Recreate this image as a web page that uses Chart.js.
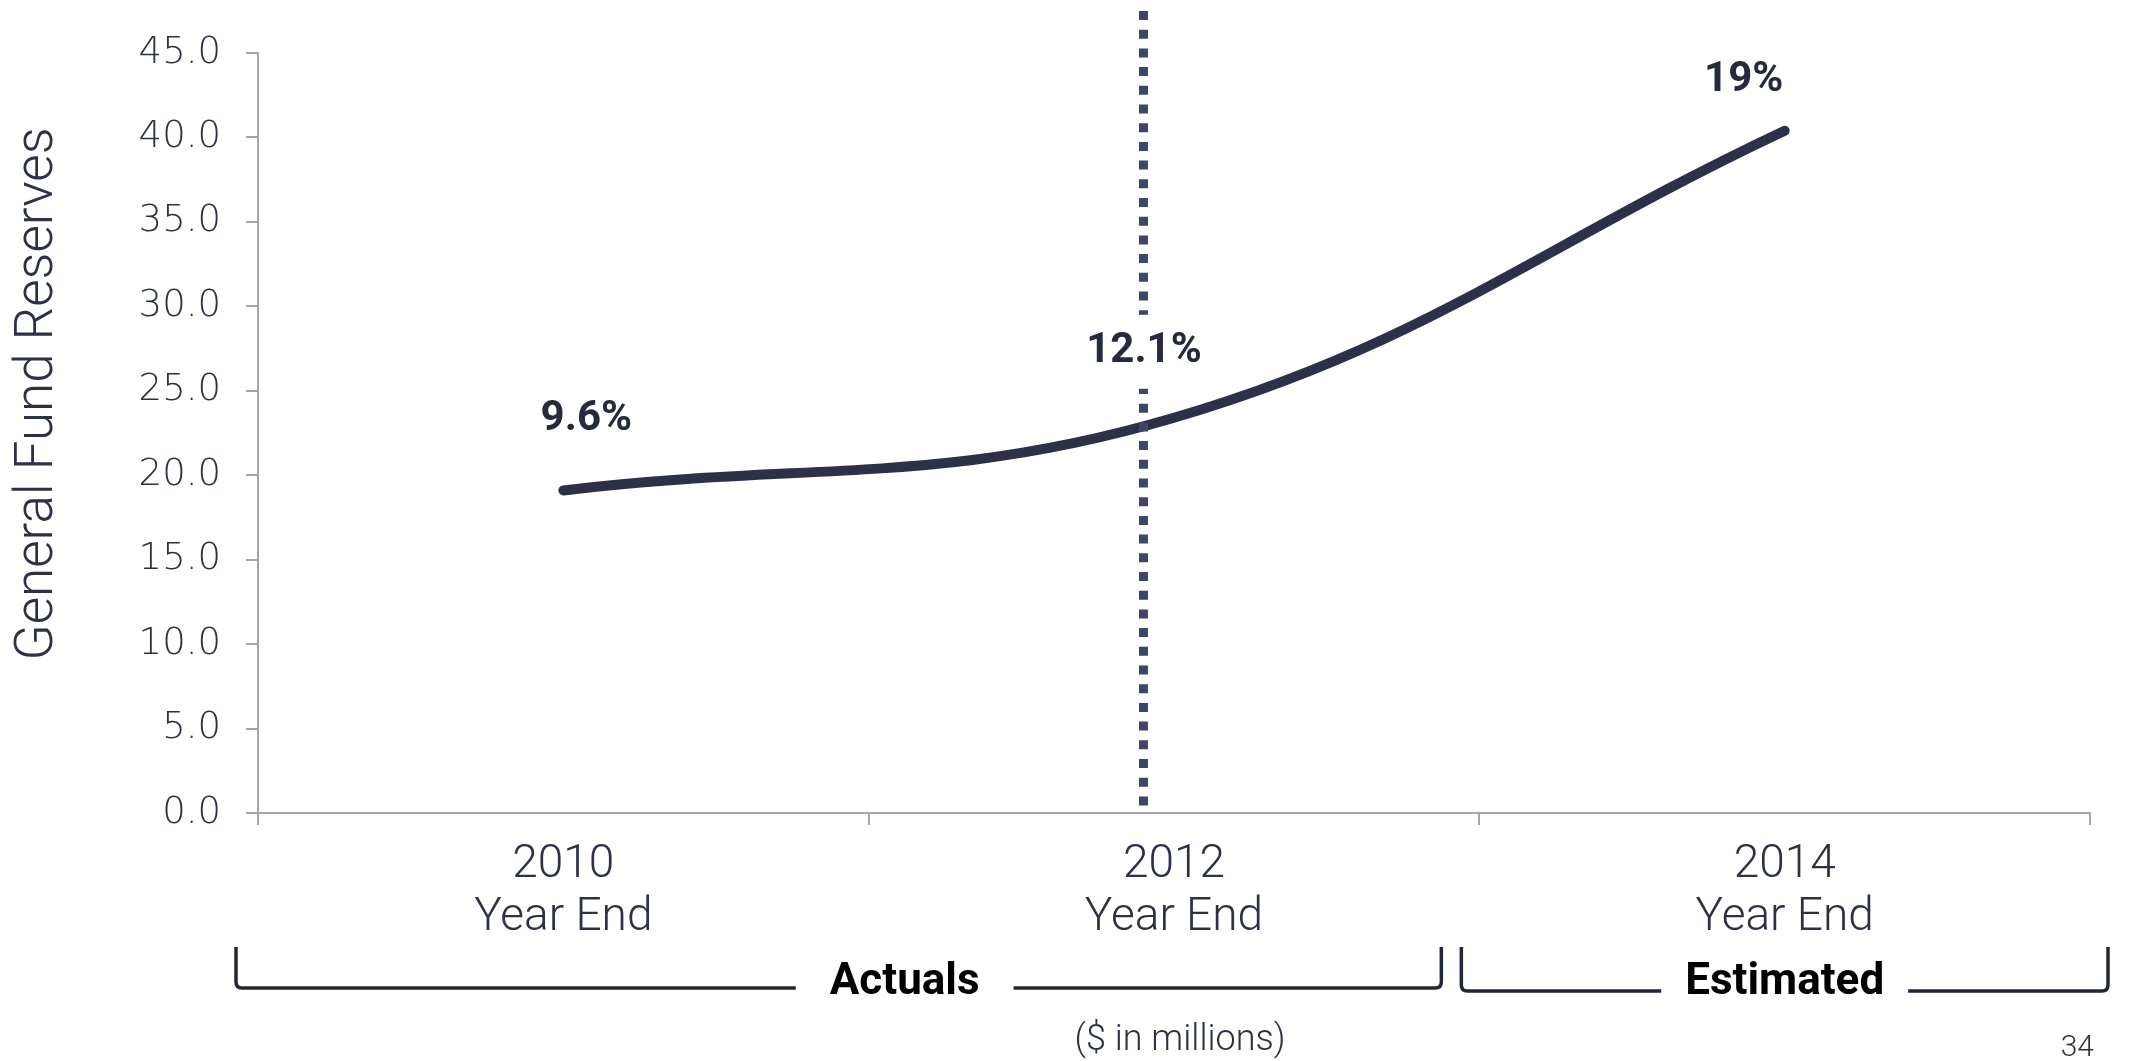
<!DOCTYPE html>
<html lang="en">
<head>
<meta charset="UTF-8">
<title>General Fund Reserves</title>
<script src="https://cdn.jsdelivr.net/npm/chart.js"></script>
<style>
  html, body { margin: 0; padding: 0; background: #fff; }
</style>
</head>
<body>
<canvas id="reservas" width="2131" height="1061"></canvas>
<script>
// dados do grafico
const anos = [['2010', 'Year End'], ['2012', 'Year End'], ['2014', 'Year End']];
const reservas = [19.1, 23.4, 40.4];           // $ em milhoes
const percentuais = ['9.6%', '12.1%', '19%'];  // reserva como % do orcamento
const ticksY = [0, 5, 10, 15, 20, 25, 30, 35, 40, 45];
const grupos = ['Actuals', 'Estimated'];
const gruposInicio = [0, 2];  // primeiro indice de cada grupo
const gruposFim = [1, 2];     // ultimo indice de cada grupo
const divisao = 0.95;         // onde termina o realizado (eixo x, em indices)

const azul = '#2c3149';
const cinza = '#a6a6a6';

// posicao dos rotulos em relacao ao ponto
const deslocRotulo = [[23, -71], [-30, -66], [-41, -50]];

const extras = {
    id: 'extras',
    afterDatasetsDraw(chart) {
        const ctx = chart.ctx;
        const x = chart.scales.x;
        const area = chart.chartArea;
        const meta = chart.getDatasetMeta(0);

        // linha tracejada separando realizado de estimado
        const xd = x.getPixelForValue(divisao);
        ctx.save();
        ctx.strokeStyle = '#3d4669';
        ctx.lineWidth = 9;
        ctx.setLineDash([9, 9.7]);
        ctx.beginPath();
        ctx.moveTo(xd, area.top - 42);
        ctx.lineTo(xd, area.bottom);
        ctx.stroke();
        ctx.restore();

        // rotulos de percentual
        ctx.save();
        ctx.font = 'bold 42px Roboto';
        ctx.textAlign = 'center';
        ctx.textBaseline = 'middle';
        percentuais.forEach(function (txt, i) {
            const p = meta.data[i];
            const lx = p.x + deslocRotulo[i][0];
            const ly = p.y + deslocRotulo[i][1];
            if (i === 1) {
                const w = ctx.measureText(txt).width;
                ctx.fillStyle = '#fff';
                ctx.fillRect(lx - w / 2 - 6, ly - 37, w + 12, 74);
            }
            ctx.fillStyle = '#252a3d';
            ctx.fillText(txt, lx, ly);
        });
        ctx.restore();
    },
    afterDraw(chart) {
        const ctx = chart.ctx;
        const x = chart.scales.x;
        const area = chart.chartArea;

        // titulo do eixo y
        ctx.save();
        ctx.fillStyle = azul;
        ctx.font = '300 53px Roboto';
        ctx.textAlign = 'center';
        ctx.textBaseline = 'middle';
        ctx.translate(39, (area.top + area.bottom) / 2 - 39);
        ctx.rotate(-Math.PI / 2);
        ctx.fillText('General Fund Reserves', 0, 0);
        ctx.restore();

        // chaves de Actuals / Estimated
        const margens = [[-22, -38], [-18, 18]];
        const desloc = [66, 0];
        const topo = 947, base = [988, 991], r = 6;
        ctx.save();
        ctx.font = 'bold 44px Roboto';
        ctx.textAlign = 'center';
        ctx.textBaseline = 'middle';
        grupos.forEach(function (nome, g) {
            const esq = x.getPixelForValue(gruposInicio[g] - 0.5) + margens[g][0];
            const dir = x.getPixelForValue(gruposFim[g] + 0.5) + margens[g][1];
            const cx = (esq + dir) / 2 + desloc[g];
            const w = ctx.measureText(nome).width;
            const fundo = base[g];
            const folga = g === 0 ? 34 : 24;
            ctx.strokeStyle = '#22263a';
            ctx.lineWidth = 3.5;
            ctx.beginPath();
            ctx.moveTo(esq, topo);
            ctx.lineTo(esq, fundo - r);
            ctx.quadraticCurveTo(esq, fundo, esq + r, fundo);
            ctx.lineTo(cx - w / 2 - folga, fundo);
            ctx.moveTo(cx + w / 2 + folga, fundo);
            ctx.lineTo(dir - r, fundo);
            ctx.quadraticCurveTo(dir, fundo, dir, fundo - r);
            ctx.lineTo(dir, topo);
            ctx.stroke();
            ctx.fillStyle = '#000';
            ctx.fillText(nome, cx, 983);
        });
        ctx.restore();

        // nota de rodape e numero da pagina
        ctx.save();
        ctx.fillStyle = azul;
        ctx.font = '300 36px Roboto';
        ctx.textAlign = 'center';
        ctx.textBaseline = 'middle';
        ctx.fillText('($ in millions)', (area.left + area.right) / 2 + 6, 1041);
        ctx.font = '300 30px Roboto';
        ctx.textAlign = 'right';
        ctx.fillText('34', 2094, 1048);
        ctx.restore();
    }
};

new Chart(document.getElementById('reservas'), {
    type: 'line',
    data: {
        labels: anos,
        datasets: [{
            data: reservas,
            borderColor: azul,
            borderWidth: 10,
            borderCapStyle: 'round',
            tension: 0.4,
            pointRadius: 0,
            fill: false
        }]
    },
    options: {
        responsive: false,
        devicePixelRatio: 1,
        animation: false,
        layout: { padding: { top: 53, right: 41, bottom: 0, left: 0 } },
        plugins: { legend: { display: false }, tooltip: { enabled: false } },
        scales: {
            x: {
                offset: true,
                grid: { offset: true, drawOnChartArea: false, tickLength: 12, color: cinza, lineWidth: 2 },
                border: { color: cinza, width: 2 },
                ticks: {
                    color: azul,
                    padding: 14,
                    maxRotation: 0,
                    font: { family: 'Roboto', size: 46, weight: '300', lineHeight: 1.15 }
                },
                afterFit: function (s) { s.height = 248; }
            },
            y: {
                min: 0,
                max: 45,
                grid: { drawOnChartArea: false, tickLength: 12, color: cinza, lineWidth: 2 },
                border: { color: cinza, width: 2 },
                afterBuildTicks: function (s) { s.ticks = ticksY.map(v => ({ value: v })); },
                ticks: {
                    color: azul,
                    padding: 25,
                    font: { family: 'DejaVu Sans', size: 37, weight: '200' },
                    callback: v => v.toFixed(1)
                },
                afterFit: function (s) { s.width = 258; }
            }
        }
    },
    plugins: [extras]
});
</script>
</body>
</html>
